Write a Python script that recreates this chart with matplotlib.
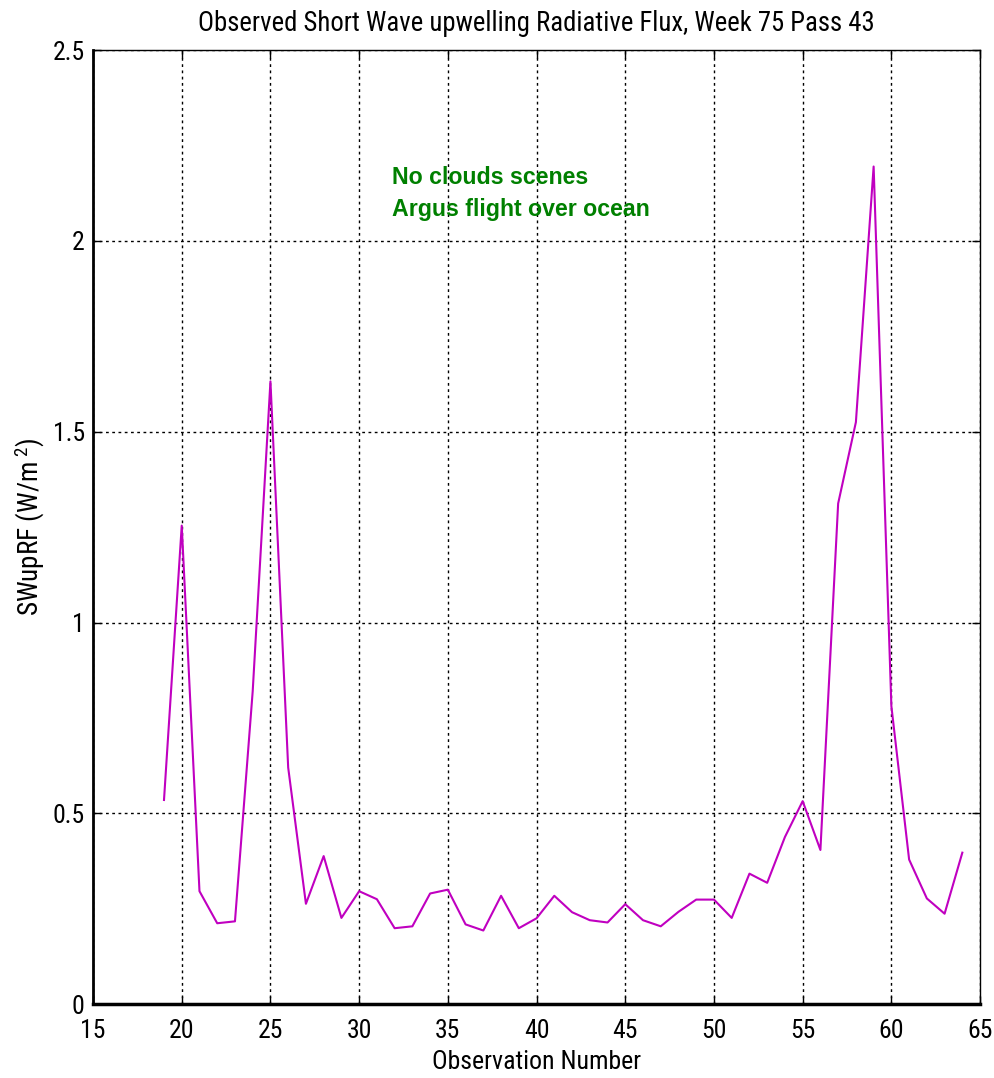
import matplotlib
matplotlib.use("Agg")
import matplotlib.pyplot as plt

# Observation numbers and measured short-wave upwelling flux
obs_number = list(range(19, 65))
swup_flux = [
    0.535, 1.254, 0.296, 0.212, 0.217, 0.82, 1.632, 0.62, 0.263, 0.388,
    0.226, 0.296, 0.275, 0.199, 0.204, 0.29, 0.30, 0.209, 0.193, 0.284,
    0.199, 0.225, 0.284, 0.241, 0.22, 0.214, 0.262, 0.22, 0.204, 0.242,
    0.274, 0.274, 0.226, 0.342, 0.318, 0.438, 0.532, 0.404, 1.312, 1.525,
    2.195, 0.781, 0.379, 0.277, 0.237, 0.397,
]

x_ticks = [15, 20, 25, 30, 35, 40, 45, 50, 55, 60, 65]
y_ticks = [0, 0.5, 1, 1.5, 2, 2.5]
y_tick_labels = ["0", "0.5", "1", "1.5", "2", "2.5"]

title_text = "Observed Short Wave upwelling Radiative Flux, Week 75 Pass 43"
x_label = "Observation Number"
y_label = "SWupRF (W/m$^{\\,\\,2}$)"
notes = ["No clouds scenes", "Argus flight over ocean"]

cond = "Roboto Condensed"
plt.rcParams["font.family"] = [cond, "DejaVu Sans"]
plt.rcParams["mathtext.fontset"] = "custom"
plt.rcParams["mathtext.rm"] = cond
plt.rcParams["mathtext.it"] = cond

fig = plt.figure(figsize=(9.95, 10.78), dpi=100)
ax = fig.add_axes([0.0935, 0.0685, 0.8915, 0.885])

ax.plot(obs_number, swup_flux, color="#C000C0", linewidth=1.5, zorder=3)

ax.set_xlim(15, 65)
ax.set_ylim(0, 2.5)
ax.set_xticks(x_ticks)
ax.set_yticks(y_ticks)
ax.set_yticklabels(y_tick_labels)
ax.tick_params(direction="in", length=6, width=1, labelsize=18.5,
               top=True, right=True)
ax.tick_params(axis="x", pad=11)
ax.tick_params(axis="y", pad=6)
ax.grid(True, color="black", linestyle=(0, (2, 2.5)), linewidth=1)

ax.spines["left"].set_linewidth(2)
ax.spines["bottom"].set_linewidth(2.5)
ax.spines["top"].set_linewidth(1)
ax.spines["right"].set_linewidth(1)

ax.set_title(title_text, fontsize=19.3, pad=14)
ax.set_xlabel(x_label, fontsize=18.6, labelpad=5)
ax.set_ylabel(y_label, fontsize=19.5, labelpad=4)

for txt, yv in zip(notes, [2.167, 2.083]):
    ax.text(31.85, yv, txt, color="#008000", fontsize=16.7, fontweight="bold",
            family=["Liberation Sans", "DejaVu Sans"], va="center")

fig.savefig("out.png", dpi=100)
